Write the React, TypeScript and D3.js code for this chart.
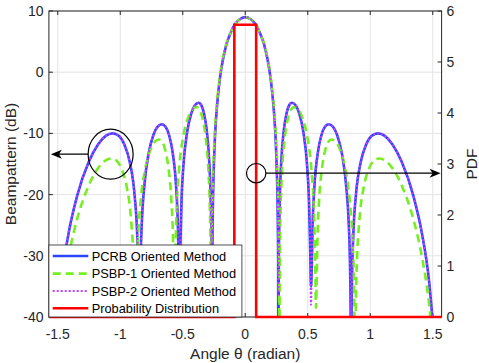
import React from 'react';
import * as d3 from 'd3';

const W = 479;
const H = 363;

const xTicks = [-1.5, -1, -0.5, 0, 0.5, 1, 1.5];
const xTickLabels = ['-1.5', '-1', '-0.5', '0', '0.5', '1', '1.5'];
const yLeftTicks = [-40, -30, -20, -10, 0, 10];
const yRightTicks = [0, 1, 2, 3, 4, 5, 6];
const seriesNames = ['PCRB Oriented Method', 'PSBP-1 Oriented Method', 'PSBP-2 Oriented Method', 'Probability Distribution'];

// [theta (rad), beampattern (dB)] read for theta >= 0; the pattern is symmetric
const pcrbHalf: [number, number][] = [
  [0, 9.0], [0.04, 8.7], [0.08, 7.9], [0.12, 6.3], [0.15, 4.6], [0.18, 1.9], [0.2, -0.6], [0.22, -4.2],
  [0.235, -8.0], [0.245, -11.8], [0.253, -16.5], [0.259, -22], [0.263, -30], [0.265, -50],
  [0.2661, -41.1], [0.2693, -29.0], [0.2758, -21.1], [0.2864, -15.2], [0.3078, -9.6], [0.3294, -6.8],
  [0.3512, -5.4], [0.3731, -5.0], [0.4028, -5.4], [0.4329, -6.8], [0.4635, -9.6], [0.4945, -15.2],
  [0.5101, -21.1], [0.5196, -29.0], [0.526, -35],
  [0.5314, -32.5], [0.5395, -24.6], [0.5532, -18.7], [0.5809, -13.1], [0.6091, -10.3], [0.6379, -8.9],
  [0.6672, -8.5], [0.701, -8.9], [0.7356, -10.3], [0.7713, -13.1], [0.808, -18.7], [0.8275, -24.6],
  [0.839, -32.5], [0.845, -44.6], [0.847, -55],
  [0.8483, -46.1], [0.8541, -34], [0.8654, -26.1], [0.8848, -20.2], [0.925, -14.6], [0.9674, -11.8],
  [1.0125, -10.4], [1.0612, -10], [1.1162, -10.4], [1.1779, -11.8], [1.2507, -14.6], [1.3449, -20.2],
  [1.4113, -26.1], [1.47, -34], [1.5204, -46.1], [1.5708, -60],
];

const psbp1Half: [number, number][] = [
  [0, 9.0], [0.04, 8.7], [0.08, 7.9], [0.12, 6.3], [0.15, 4.7], [0.18, 2.1], [0.2, -0.3], [0.22, -3.7],
  [0.235, -7.2], [0.25, -12.5], [0.26, -18], [0.267, -25], [0.271, -34], [0.272, -50],
  [0.2767, -29.7], [0.2837, -21.8], [0.2953, -15.9], [0.3186, -10.3], [0.3422, -7.5], [0.366, -6.1],
  [0.39, -5.7], [0.4239, -6.1], [0.4585, -7.5], [0.4937, -10.3], [0.5295, -15.9], [0.5477, -21.8],
  [0.5587, -29.7], [0.5661, -38.5],
  [0.5708, -35], [0.578, -27.1], [0.5902, -21.2], [0.6145, -15.6], [0.639, -12.8], [0.664, -11.4],
  [0.69, -11], [0.7251, -11.4], [0.7612, -12.8], [0.7984, -15.6], [0.8373, -21.2], [0.8575, -27.1],
  [0.8699, -35], [0.8761, -47.1], [0.878, -55],
  [0.8797, -50.2], [0.8847, -38.1], [0.895, -30.2], [0.9126, -24.3], [0.9486, -18.7], [0.9868, -15.9],
  [1.0269, -14.5], [1.07, -14.1], [1.124, -14.5], [1.1848, -15.9], [1.2561, -18.7], [1.349, -24.3],
  [1.4138, -30.2], [1.4718, -38.1], [1.5218, -50.2], [1.5708, -60],
];

const psbp2Half: [number, number][] = [
  [0, 9.0], [0.04, 8.7], [0.08, 7.9], [0.12, 6.3], [0.15, 4.6], [0.18, 1.9], [0.2, -0.6], [0.22, -4.2],
  [0.235, -8.0], [0.245, -11.8], [0.253, -16.5], [0.259, -22], [0.263, -30], [0.2655, -36.4],
  [0.2693, -29.0], [0.2758, -21.1], [0.2864, -15.2], [0.3078, -9.6], [0.3294, -6.8],
  [0.3512, -5.4], [0.3731, -5.0], [0.4028, -5.4], [0.4329, -6.8], [0.4635, -9.6], [0.4945, -15.2],
  [0.5101, -21.1], [0.5196, -29.0], [0.526, -38],
  [0.5314, -32.5], [0.5395, -24.6], [0.5532, -18.7], [0.5809, -13.1], [0.6091, -10.3], [0.6379, -8.9],
  [0.6672, -8.5], [0.701, -8.9], [0.7356, -10.3], [0.7713, -13.1], [0.808, -18.7], [0.8275, -24.6],
  [0.839, -32.5], [0.845, -44.6], [0.847, -55],
  [0.8483, -46.1], [0.8541, -34], [0.8654, -26.1], [0.8848, -20.2], [0.925, -14.6], [0.9674, -11.8],
  [1.0125, -10.4], [1.0612, -10], [1.1162, -10.4], [1.1779, -11.8], [1.2507, -14.6], [1.3449, -20.2],
  [1.4113, -26.1], [1.47, -34], [1.5204, -46.1], [1.5708, -60],
];

// Probability distribution (right axis)
const pdfTheta = [-1.5708, -0.0873, -0.0873, 0.0873, 0.0873, 1.5708];
const pdfValue = [0, 0, 5.73, 5.73, 0, 0];

// annotations (data coordinates)
const leftMarker = { theta: -1.077, db: -13.4, tipTheta: -1.555 };
const rightMarker = { theta: 0.0876, db: -16.5, tipTheta: 1.563 };

function mirror(half: [number, number][]): [number, number][] {
  const left = half.filter((d) => d[0] > 0).map(([t, v]) => [-t, v] as [number, number]).reverse();
  return [...left, ...half];
}

const FONT = '"Liberation Sans", Arial, Helvetica, sans-serif';
const AX = '#262626';

export default function App() {
  const L = 48.9, R = 441.6, T = 11, B = 317;
  const x = d3.scaleLinear().domain([-Math.PI / 2, Math.PI / 2]).range([L, R]);
  const yL = d3.scaleLinear().domain([-40, 10]).range([B, T]);
  const yR = d3.scaleLinear().domain([0, 6]).range([B, T]);

  const line = d3.line<[number, number]>().x((d) => x(d[0])).y((d) => yL(d[1])).curve(d3.curveMonotoneX);
  const pdfLine = d3.line<number>().x((_, i) => x(pdfTheta[i])).y((d) => yR(d)).curve(d3.curveLinear);

  const blue = '#2b45ff';
  const green = '#74ef1f';
  const purple = '#c040ff';
  const red = '#ff0000';

  const styles = [
    { stroke: blue, width: 2.6, dash: undefined as string | undefined },
    { stroke: green, width: 2.6, dash: '8,5' },
    { stroke: purple, width: 2.0, dash: '2,2' },
    { stroke: red, width: 2.6, dash: undefined as string | undefined },
  ];

  const tick = 4;
  const legX = L, legY = 245, legW = 193, legH = B - 245;
  const rows = [256, 273.6, 291, 308.3];

  const lcx = x(leftMarker.theta), lcy = yL(leftMarker.db);
  const rcx = x(rightMarker.theta), rcy = yL(rightMarker.db);
  const lrx = 22.5, lry = 25, rr = 9.7;
  const ltip = x(leftMarker.tipTheta), rtip = x(rightMarker.tipTheta);
  const head = (tipX: number, yy: number, dir: number) =>
    `M${tipX},${yy} L${tipX - dir * 11},${yy - 4.5} L${tipX - dir * 8},${yy} L${tipX - dir * 11},${yy + 4.5} Z`;

  return (
    <svg width={W} height={H} style={{ position: 'absolute', left: 0, top: 0, background: '#fff' }} fontFamily={FONT}>
      <defs>
        <clipPath id="plot">
          <rect x={L} y={T} width={R - L} height={B - T} />
        </clipPath>
      </defs>
      <rect x={0} y={0} width={W} height={H} fill="#fff" />
      {/* grid */}
      {xTicks.map((t) => (
        <line key={'gx' + t} x1={x(t)} x2={x(t)} y1={T} y2={B} stroke="#e3e3e3" strokeWidth={1} />
      ))}
      {yLeftTicks.map((t) => (
        <line key={'gy' + t} x1={L} x2={R} y1={yL(t)} y2={yL(t)} stroke="#e3e3e3" strokeWidth={1} />
      ))}
      {/* axes box */}
      <rect x={L} y={T} width={R - L} height={B - T} fill="none" stroke={AX} strokeWidth={1} />
      {xTicks.map((t) => (
        <g key={'tx' + t}>
          <line x1={x(t)} x2={x(t)} y1={B} y2={B - tick} stroke={AX} />
          <line x1={x(t)} x2={x(t)} y1={T} y2={T + tick} stroke={AX} />
        </g>
      ))}
      {yLeftTicks.map((t) => (
        <line key={'tyl' + t} x1={L} x2={L + tick} y1={yL(t)} y2={yL(t)} stroke={AX} />
      ))}
      {yRightTicks.map((t) => (
        <line key={'tyr' + t} x1={R} x2={R - tick} y1={yR(t)} y2={yR(t)} stroke={AX} />
      ))}
      {/* curves */}
      <g clipPath="url(#plot)" fill="none" strokeLinejoin="round">
        <path d={line(mirror(pcrbHalf)) || ''} stroke={styles[0].stroke} strokeWidth={styles[0].width} />
        <path d={line(mirror(psbp1Half)) || ''} stroke={styles[1].stroke} strokeWidth={styles[1].width} strokeDasharray={styles[1].dash} />
        <path d={line(mirror(psbp2Half)) || ''} stroke={styles[2].stroke} strokeWidth={styles[2].width} strokeDasharray={styles[2].dash} />
      </g>
      <path d={pdfLine(pdfValue) || ''} fill="none" stroke={red} strokeWidth={2.6} strokeLinejoin="miter" />
      {/* tick labels */}
      {xTicks.map((t, i) => (
        <text key={'lx' + t} x={x(t)} y={338.5} fontSize={14} textAnchor="middle" fill={AX}>{xTickLabels[i]}</text>
      ))}
      {yLeftTicks.map((t) => (
        <text key={'lyl' + t} x={43.5} y={yL(t)} dy="0.36em" fontSize={14} textAnchor="end" fill={AX}>{t}</text>
      ))}
      {yRightTicks.map((t) => (
        <text key={'lyr' + t} x={446.5} y={yR(t)} dy="0.36em" fontSize={14} textAnchor="start" fill={AX}>{t}</text>
      ))}
      {/* axis labels */}
      <text x={(L + R) / 2} y={359} fontSize={15.5} textAnchor="middle" fill={AX}>Angle θ (radian)</text>
      <text transform={`translate(15.5,${(T + B) / 2}) rotate(-90)`} fontSize={15.5} textAnchor="middle" fill={AX}>Beampattern (dB)</text>
      <text transform={`translate(477,${(T + B) / 2}) rotate(-90)`} fontSize={15.5} textAnchor="middle" fill={AX}>PDF</text>
      {/* legend */}
      <rect x={legX} y={legY} width={legW} height={legH} fill="#fff" stroke={AX} strokeWidth={0.8} />
      {seriesNames.map((name, i) => (
        <g key={name}>
          <line x1={52.7} x2={88.3} y1={rows[i]} y2={rows[i]} stroke={styles[i].stroke} strokeWidth={styles[i].width} strokeDasharray={styles[i].dash} />
          <text x={91.7} y={rows[i]} dy="0.36em" fontSize={12.8} fill="#000">{name}</text>
        </g>
      ))}
      {/* annotations */}
      <ellipse cx={lcx} cy={lcy} rx={lrx} ry={lry} fill="none" stroke="#000" strokeWidth={1.2} />
      <line x1={lcx - lrx} x2={ltip + 6} y1={lcy} y2={lcy} stroke="#000" strokeWidth={1.3} />
      <path d={head(ltip, lcy, -1)} fill="#000" />
      <circle cx={rcx} cy={rcy} r={rr} fill="none" stroke="#000" strokeWidth={1.2} />
      <line x1={rcx + rr} x2={rtip - 6} y1={rcy} y2={rcy} stroke="#000" strokeWidth={1.3} />
      <path d={head(rtip, rcy, 1)} fill="#000" />
    </svg>
  );
}
